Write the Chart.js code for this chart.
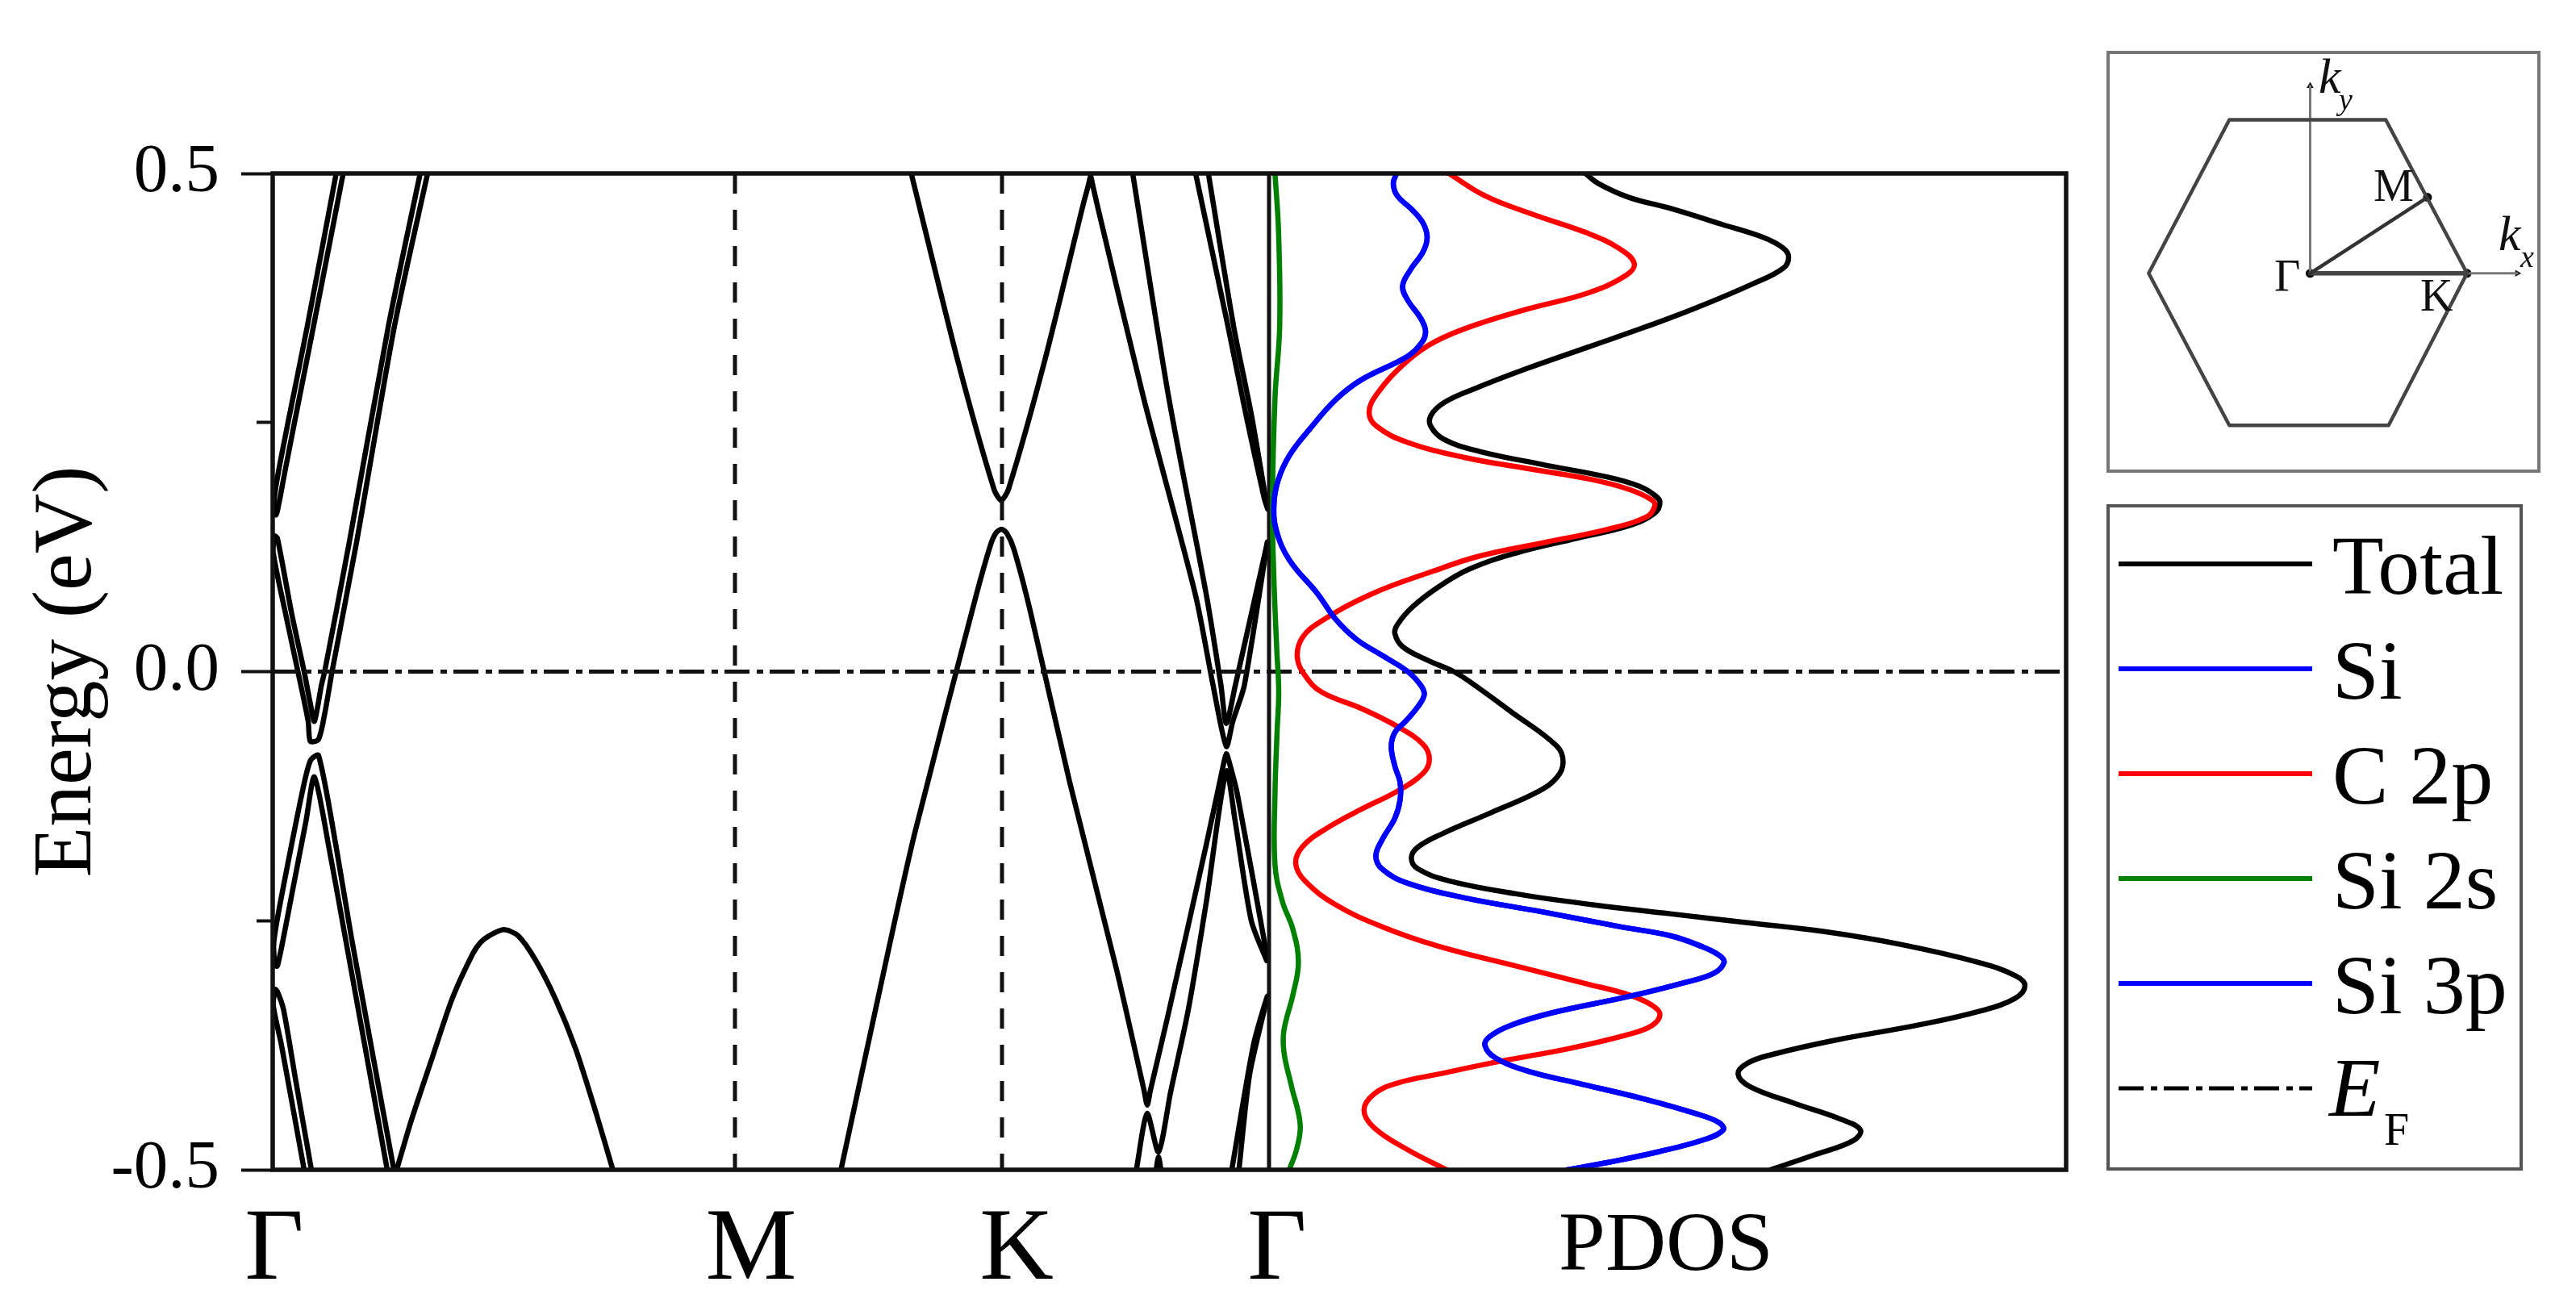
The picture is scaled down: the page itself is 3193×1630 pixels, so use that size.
<!DOCTYPE html>
<html lang="en">
<head>
<meta charset="UTF-8">
<title>Band structure and PDOS</title>
<script src="https://cdn.jsdelivr.net/npm/chart.js@4/dist/chart.umd.min.js"></script>
<style>
  html, body { margin: 0; padding: 0; background: #fff; }
  #wrap { position: relative; width: 3193px; height: 1630px; overflow: hidden; }
  #mainChart { position: absolute; left: 0; top: 0; }
  #bzChart { position: absolute; left: 2611px; top: 63px; }
</style>
</head>
<body>
<div id="wrap">
  <canvas id="mainChart" width="3193" height="1630"></canvas>
  <canvas id="bzChart" width="538" height="523"></canvas>
</div>

<script>
// axis labels
const yMajorTicks = [-0.5, 0, 0.5];
const yMinorTicks = [-0.25, 0.25];
const kLabels = ['Γ', 'M', 'K', 'Γ'];
const kLabelPos = [2, 593, 922, 1245];
const kSymmetry = [573, 904];
const kGamma = 1235;
const kEnd = 2223;

// bands, [k, E]. the pairs run as one line through the turn at gamma
const bandConeA = [[87.4,.5],[50.7,.347],[27,.25],[15,.2],[8,.17],[4.2,.157],[1.5,.17],[7,.2],[19,.25],[43,.347],[78.7,.5]];
const bandVOuter = [[192,.5],[151,.347],[104,.13],[73.6,0],[64.4,-.0426],[56.8,-.068],[46.6,-.07],[44,-.05],[31.3,0],[16,.058],[.7,.119],[2.2,.136],[5.8,.134],[23.6,.058],[39,0],[46.6,-.0318],[51.7,-.0499],[60.4,-.0137],[64.4,0],[95,.13],[143.5,.347],[182.8,.5]];
const bandLambda = [[150.2,-.5],[97.6,-.267],[78.7,-.176],[56.8,-.084],[46.6,-.0896],[36.4,-.122],[18.5,-.194],[5.8,-.248],[1.2,-.274],[3.2,-.295],[5.8,-.2955],[13.4,-.267],[23.6,-.224],[41.5,-.149],[51.7,-.1058],[69.6,-.176],[90,-.267],[142,-.5]];
const bandLowA = [[39,-.5],[10.9,-.375],[.7,-.335],[3.2,-.319],[5.8,-.321],[13.4,-.339],[28.7,-.411],[48,-.5]];
const bandArch = [[153.7,-.5],[171.6,-.451],[197.1,-.389],[222.6,-.328],[248.1,-.283],[258,-.2715],[268.5,-.265],[286.4,-.259],[304.2,-.265],[324.7,-.288],[350.2,-.328],[375.7,-.379],[401.2,-.444],[421.6,-.5]];
const bandKValence = [[704.4,-.5],[764.7,-.274],[795.9,-.162],[871.8,.076],[889.7,.127],[896.4,.139],[903,.143],[909.8,.139],[918.7,.123],[938.8,.0615],[987.9,-.111],[1046,-.299],[1080,-.42],[1084,-.435],[1088,-.42],[1108.4,-.3497],[1157.5,-.1727],[1178,-.0950],[1182,-.0824],[1186,-.092],[1195.5,-.122],[1233,-.288]];
const bandKInner = [[1070.5,-.5],[1083.9,-.4436],[1098,-.482],[1113,-.422],[1135,-.339],[1157.5,-.23],[1182,-.1],[1193,-.15],[1213,-.25],[1232,-.29]];
const bandKFoot = [[1095,-.5],[1098,-.487],[1101,-.5]];
const bandKConduction = [[791.5,.5],[849.5,.311],[894.1,.183],[903,.172],[912,.183],[956.6,.311],[1005,.47],[1011,.488],[1013.8,.497],[1016.5,.488],[1023,.465],[1079.4,.275],[1144.1,.076],[1165.6,-.0137],[1182,-.075],[1190,-.05],[1204.4,-.0137],[1233,.13]];
const bandKSecond = [[1066,.5],[1110.7,.275],[1157.5,.076],[1175.4,-.0137],[1182,-.052],[1193.2,-.0137],[1233,.13]];
const bandConeB = [[1144,.5],[1184,.347],[1206.6,.257],[1229,.174],[1233.4,.163],[1232.5,.166],[1213.3,.257],[1191,.347],[1159.8,.5]];
const bandLowB = [[1188.8,-.5],[1215.6,-.375],[1233,-.326],[1211,-.404],[1197.7,-.5]];

const bands = [bandConeA, bandVOuter, bandLambda, bandLowA, bandArch, bandKValence, bandKInner, bandKFoot, bandKConduction, bandKSecond, bandConeB, bandLowB];

// pdos, [states, E]
const pdosTotal = [[392,.5],[408,.49],[446,.476],[497,.465],[561,.449],[612,.436],[637.5,.425],[644,.416],[637.5,.405],[599,.389],[529,.365],[465,.3455],[395,.3256],[319,.304],[255,.284],[217,.27],[200.6,.257],[200.6,.246],[217,.233],[261,.221],[338,.208],[421,.195],[459,.186],[478,.177],[484.5,.17],[478,.159],[446,.1465],[382,.134],[306,.119],[248.5,.103],[210,.085],[178,.065],[159,.047],[156,.038],[165.6,.025],[197.5,.011],[229,0],[255,-.0137],[299.5,-.04],[357,-.075],[364.5,-.091],[357,-.106],[334.6,-.12],[274,-.142],[216.6,-.162],[184.7,-.176],[176.4,-.187],[184.7,-.198],[223,-.21],[306,-.223],[401.5,-.234],[497,-.243],[593,-.252],[688.5,-.261],[784,-.274],[880,-.292],[924.5,-.305],[937,-.315],[924.5,-.328],[880,-.341],[803,-.355],[701,-.37],[625,-.384],[593,-.393],[581.4,-.404],[596,-.4165],[650,-.433],[707.7,-.449],[733,-.46],[723.6,-.471],[676,-.485],[621.6,-.5]];
const pdosC2p = [[223,.5],[267.6,.4776],[325,.4595],[395,.44],[433.4,.425],[452.6,.41],[443,.398],[395,.38],[319,.3636],[242,.344],[197.5,.3274],[165.6,.3075],[133.7,.2786],[124,.26],[133.7,.246],[172,.23],[242,.215],[318.6,.204],[395,.1936],[446,.183],[475,.172],[478,.166],[468.5,.1556],[420.7,.143],[344,.13],[261,.116],[204,.101],[127.3,.078],[63.5,.05],[41.2,.034],[35,.0145],[44.4,-.0036],[65,-.0205],[114.6,-.037],[159,-.055],[191,-.073],[198.7,-.088],[191,-.102],[159,-.12],[114.6,-.138],[70,-.158],[41.2,-.176],[33,-.1925],[44.4,-.21],[82.7,-.234],[140,-.256],[210,-.2756],[306,-.2955],[395,-.3136],[446,-.3244],[475,-.335],[484.5,-.344],[475,-.355],[446,-.364],[370,-.3786],[287,-.391],[210,-.404],[159,-.413],[130.5,-.4237],[117.7,-.44],[130.5,-.458],[172,-.48],[220,-.5]];
const pdosSi = [[158,.5],[154,.49],[159,.4776],[178,.463],[191,.45],[196,.436],[191,.4215],[175,.403],[165.6,.387],[172,.3727],[188,.3546],[194,.342],[190,.331],[172,.3166],[114.6,.293],[82.7,.273],[51,.244],[25.3,.217],[11.2,.1918],[6,.1664],[9.3,.141],[25.3,.112],[60.3,.078],[82.7,.0525],[108,.0326],[140,.0163],[172,0],[188,-.0137],[192.4,-.023],[184.7,-.035],[169,-.05],[156,-.061],[151.5,-.075],[156,-.095],[162.4,-.111],[162.4,-.129],[156,-.147],[140,-.169],[132.4,-.185],[140,-.198],[172,-.2124],[242,-.227],[338,-.241],[433.4,-.2558],[497,-.265],[535.5,-.2756],[558,-.2847],[564,-.292],[551.4,-.3027],[516.3,-.3118],[446,-.326],[350.5,-.3425],[299.5,-.355],[274,-.366],[267.6,-.375],[280.4,-.3876],[325,-.402],[382.4,-.413],[465.3,-.429],[529,-.4436],[558,-.4527],[563,-.46],[542,-.469],[484.5,-.4816],[420.7,-.4925],[369.7,-.5]];
const pdosSi3p = pdosSi; // same curve in the picture, only one blue line shows
const pdosSi2s = [[7.4,.5],[11.8,.441],[13.2,.347],[7.4,.275],[4.2,.166],[6,.094],[9.6,.0217],[12,-.02],[10,-.06],[7.4,-.122],[7.4,-.194],[16.3,-.23],[29.7,-.259],[36.4,-.292],[29.7,-.324],[18.5,-.36],[18.5,-.382],[27.4,-.4147],[38.6,-.4545],[34,-.48],[25,-.5]];

// legend
const legendLabels = ['Total', 'Si', 'C 2p', 'Si 2s', 'Si 3p'];
const legendColors = ['#000000', '#0000ff', '#ff0000', '#008000', '#0000ff'];

// brillouin zone inset, [kx, ky]
const bzHexagon = [[-1.029,0],[-.515,1],[.482,1],[1,0],[.5,-.99],[-.515,-.99],[-1.029,0]];
const bzPointM = [.748,.495];
const bzPointK = [1,0];
const bzGamma = [0,0];
const bzAxisY = [[0,0],[0,1.22]];
const bzAxisX = [[1,0],[1.32,0]];

const serif = '"Liberation Serif", "Times New Roman", serif';
const DASHDOT = [31, 9, 8, 8];

function curve(data, color, extra) {
  return Object.assign({
    data: data, showLine: true, borderColor: color, backgroundColor: color,
    borderWidth: 6.5, pointRadius: 0, tension: 0, borderCapStyle: 'round', borderJoinStyle: 'round'
  }, extra);
}

const datasets = [
  curve(pdosSi, '#0000ff', { label: 'Si', xAxisID: 'xDos', tension: 0.4 }),
  curve(pdosSi3p, '#0000ff', { label: 'Si 3p', xAxisID: 'xDos', tension: 0.4 }),
  curve(pdosSi2s, '#008000', { label: 'Si 2s', xAxisID: 'xDos', tension: 0.4 }),
  curve(pdosC2p, '#ff0000', { label: 'C 2p', xAxisID: 'xDos', tension: 0.4 }),
  curve(pdosTotal, '#000000', { label: 'Total', xAxisID: 'xDos', tension: 0.4 }),
  curve([[kGamma, .5], [kGamma, -.5]], '#111111', { label: 'gamma', borderWidth: 5, borderCapStyle: 'butt' }),
  curve([[0, 0], [kEnd, 0]], '#111111', { label: 'EF', borderWidth: 5, borderDash: DASHDOT, borderCapStyle: 'butt' })
];
kSymmetry.forEach(k => datasets.push(curve([[k, .5], [k, -.5]], '#111111', { label: 'k' + k, borderWidth: 5, borderDash: [25, 20], borderCapStyle: 'butt' })));
bands.forEach((b, i) => datasets.push(curve(b, '#000000', { label: 'band ' + i, tension: 0.25 })));

// frame around the plot and the boxed legend
const framePlugin = {
  id: 'frame',
  afterDatasetsDraw(chart) {
    const a = chart.chartArea, ctx = chart.ctx;
    ctx.save();
    ctx.strokeStyle = '#111';
    ctx.lineWidth = 5.5;
    ctx.strokeRect(a.left, a.top, a.right - a.left, a.bottom - a.top);

    ctx.strokeStyle = '#555';
    ctx.lineWidth = 4;
    ctx.strokeRect(2613, 627, 512, 822);

    ctx.fillStyle = '#000';
    ctx.textAlign = 'left';
    ctx.textBaseline = 'alphabetic';
    ctx.font = '104px ' + serif;
    legendLabels.forEach((txt, i) => {
      const y = 699 + i * 130;
      ctx.strokeStyle = legendColors[i];
      ctx.lineWidth = 6;
      ctx.beginPath(); ctx.moveTo(2626, y); ctx.lineTo(2866, y); ctx.stroke();
      ctx.fillText(txt, 2891, y + 37);
    });
    ctx.strokeStyle = '#000';
    ctx.lineWidth = 5;
    ctx.setLineDash(DASHDOT);
    ctx.beginPath(); ctx.moveTo(2626, 1349); ctx.lineTo(2866, 1349); ctx.stroke();
    ctx.setLineDash([]);
    ctx.font = 'italic 104px ' + serif;
    ctx.fillText('E', 2887, 1383);
    ctx.font = '56px ' + serif;
    ctx.fillText('F', 2955, 1419);
    ctx.restore();
  }
};

new Chart(document.getElementById('mainChart'), {
  type: 'scatter',
  data: { datasets: datasets },
  plugins: [framePlugin],
  options: {
    responsive: false,
    animation: false,
    devicePixelRatio: 1,
    layout: { padding: { left: 0, top: 215, right: 632, bottom: 180 } },
    plugins: { legend: { display: false }, tooltip: { enabled: false } },
    scales: {
      x: {
        type: 'linear', min: 0, max: kEnd, position: { y: -0.5 },
        grid: { display: false }, border: { display: false },
        afterBuildTicks: axis => { axis.ticks = kLabelPos.map(v => ({ value: v })); },
        ticks: {
          autoSkip: false, maxRotation: 0, padding: 17, color: '#000',
          font: { family: serif, size: 127 },
          callback: (v, i) => kLabels[i]
        }
      },
      xDos: {
        type: 'linear', min: -kGamma, max: kEnd - kGamma, position: { y: -0.5 },
        grid: { display: false }, border: { display: false },
        afterBuildTicks: axis => { axis.ticks = [{ value: 492 }]; },
        ticks: {
          autoSkip: false, maxRotation: 0, padding: 26, color: '#000',
          font: { family: serif, size: 104 },
          callback: () => 'PDOS'
        }
      },
      y: {
        type: 'linear', min: -0.5, max: 0.5, position: 'left',
        afterFit: axis => { axis.width = 338; },
        afterBuildTicks: axis => { axis.ticks = yMajorTicks.map(v => ({ value: v })); },
        grid: { drawOnChartArea: false, tickLength: 39, tickWidth: 4, tickColor: '#111' },
        border: { display: false },
        title: {
          display: true, text: 'Energy (eV)', color: '#000',
          font: { family: serif, size: 103 }, padding: { top: 23, bottom: 0 }
        },
        ticks: {
          padding: 27, color: '#000',
          font: { family: serif, size: 85 },
          callback: v => v.toFixed(1)
        }
      },
      yMinor: {
        type: 'linear', min: -0.5, max: 0.5, position: { x: 0 },
        afterBuildTicks: axis => { axis.ticks = yMinorTicks.map(v => ({ value: v })); },
        grid: { drawOnChartArea: false, tickLength: 20, tickWidth: 4, tickColor: '#111' },
        border: { display: false },
        ticks: { display: false }
      }
    }
  }
});

// inset: brillouin zone
const bzLabels = [
  { text: 'Γ', x: 208, y: 298, font: '56px ' },
  { text: 'M', x: 331, y: 186, font: '56px ' },
  { text: 'K', x: 389, y: 322, font: '56px ' },
  { text: 'k', x: 263, y: 52, font: 'italic 62px ' },
  { text: 'y', x: 288, y: 73, font: 'italic 38px ' },
  { text: 'k', x: 486, y: 247, font: 'italic 62px ' },
  { text: 'x', x: 513, y: 268, font: 'italic 38px ' }
];

const bzPlugin = {
  id: 'bzBox',
  afterDatasetsDraw(chart) {
    const ctx = chart.ctx;
    ctx.save();
    ctx.strokeStyle = '#777';
    ctx.lineWidth = 4;
    ctx.strokeRect(2, 2, 534, 519);
    ctx.fillStyle = '#111';
    ctx.textAlign = 'left';
    bzLabels.forEach(l => {
      ctx.font = l.font + serif;
      ctx.fillText(l.text, l.x, l.y);
    });
    ctx.restore();
  }
};

new Chart(document.getElementById('bzChart'), {
  type: 'scatter',
  plugins: [bzPlugin],
  data: {
    datasets: [
      curve([bzGamma, bzPointM], '#333333', { borderWidth: 4.5 }),
      curve([bzGamma, bzPointK], '#444444', { borderWidth: 5.5 }),
      curve(bzHexagon, '#444444', { borderWidth: 4.5 }),
      curve(bzAxisY, '#777777', { borderWidth: 3 }),
      curve(bzAxisX, '#777777', { borderWidth: 3 }),
      { data: [bzGamma, bzPointM, bzPointK], pointRadius: 5.5, pointBackgroundColor: '#000', pointBorderWidth: 0 },
      { data: [bzAxisY[1]], pointStyle: 'triangle', pointRadius: 5, pointBackgroundColor: '#111', pointBorderWidth: 0 },
      { data: [bzAxisX[1]], pointStyle: 'triangle', rotation: 90, pointRadius: 5, pointBackgroundColor: '#111', pointBorderWidth: 0 }
    ]
  },
  options: {
    responsive: false,
    animation: false,
    devicePixelRatio: 1,
    plugins: { legend: { display: false }, tooltip: { enabled: false } },
    scales: {
      x: { type: 'linear', min: -1.27, max: 1.44, display: false },
      y: { type: 'linear', min: -1.27, max: 1.42, display: false }
    }
  }
});
</script>
</body>
</html>
